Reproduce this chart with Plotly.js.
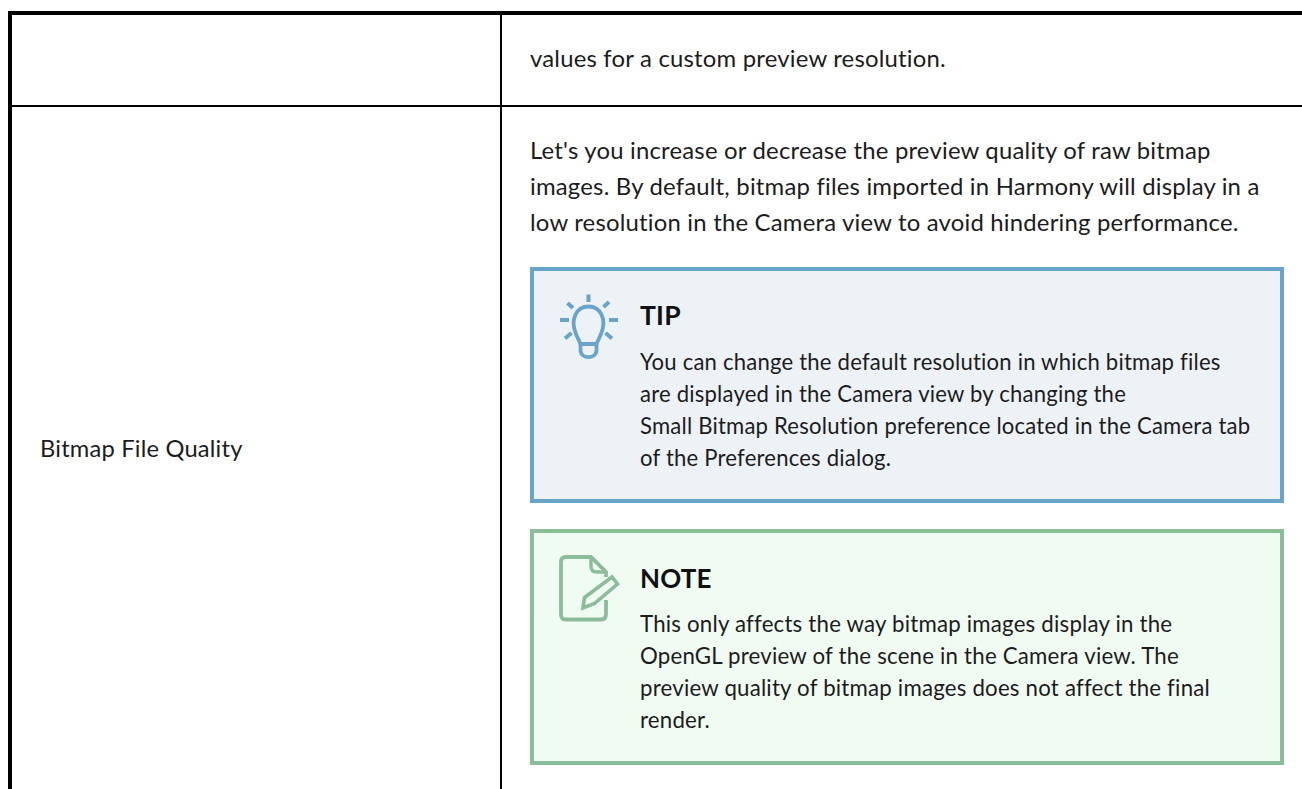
<!DOCTYPE html>
<html>
<head>
<meta charset="utf-8">
<script src="https://cdn.plot.ly/plotly-3.0.1.min.js"></script>
<style>html,body{margin:0;padding:0;background:#fff;overflow:hidden}#c{width:1302px;height:789px}
.annotation-text{letter-spacing:.2px;font-variant-ligatures:none}</style>
</head>
<body>
<div id="c"></div>
<script>
const rowLabel = "Bitmap File Quality";
const topRowLines = ["values for a custom preview resolution."];
const bodyLines = [
  "Let's you increase or decrease the preview quality of raw bitmap",
  "images. By default, bitmap files imported in Harmony will display in a",
  "low resolution in the Camera view to avoid hindering performance."
];
const tipTitle = "TIP";
const tipLines = [
  "You can change the default resolution in which bitmap files",
  "are displayed in the Camera view by changing the",
  "Small Bitmap Resolution preference located in the Camera tab",
  "of the Preferences dialog."
];
const noteTitle = "NOTE";
const noteLines = [
  "This only affects the way bitmap images display in the",
  "OpenGL preview of the scene in the Camera view. The",
  "preview quality of bitmap images does not affect the final",
  "render."
];

const FONT = "Lato, 'Noto Sans', sans-serif";
const INK = "#1c1c1c";
const BLUE = "#69a5cb", BLUEBG = "#edf2f7";
const GREEN = "#8abd9a", GREENBG = "#f0fbf2";

function rect(x0, y0, x1, y1, fill) {
  return {type:"rect", xref:"x", yref:"y", x0, y0, x1, y1, fillcolor:fill, line:{width:0}, layer:"below"};
}
function box(x0, y0, x1, y1, b, border, bg) {
  return [rect(x0, y0, x1, y1, border), rect(x0+b, y0+b, x1-b, y1-b, bg)];
}
function stroke(path, color, w) {
  return {type:"path", xref:"x", yref:"y", path, line:{color, width:w}, fillcolor:"rgba(0,0,0,0)", layer:"above"};
}

const shapes = [
  rect(8, 11, 1302, 15, "#000"),
  rect(8, 11, 12, 789, "#000"),
  rect(12, 105, 1302, 107, "#000"),
  rect(500, 15, 502, 789, "#000"),
  ...box(530, 267, 1284, 503, 4, BLUE, BLUEBG),
  ...box(530, 529, 1284, 765, 4, GREEN, GREENBG),
  // lightbulb icon
  stroke("M580.5,344 L576,334 C570,320 576,306.5 588.5,306.5 C601,306.5 607,320 601,334 L596.5,344 Z", BLUE, 3.8),
  stroke("M580.5,344 L580.5,350 C580.5,359.5 596.5,359.5 596.5,350 L596.5,344", BLUE, 3.8),
  stroke("M588.5,294.5 L588.5,302", BLUE, 4),
  stroke("M567.5,303 L573,308", BLUE, 4),
  stroke("M609,302 L603.5,307", BLUE, 4),
  stroke("M560,320 L569,320", BLUE, 4),
  stroke("M609,320 L618,320", BLUE, 4),
  stroke("M565,338.5 L571.5,333", BLUE, 4),
  stroke("M612,338.5 L605.5,333", BLUE, 4),
  // note icon
  stroke("M606,600 L606,614 C606,618 604,619.5 601,619.5 L566,619.5 C562.5,619.5 561,618 561,614 L561,562 C561,558.5 562.5,557 566,557 L591,557 L606,572 L606,577", GREEN, 3.8),
  stroke("M591,557 L591,566 C591,570 593,572 597,572 L606,572", GREEN, 3.4),
  stroke("M583,608 L584.5,597.5 L612,577 L617.5,584 L594.5,603.5 Z", GREEN, 3.6)
];

const ann = [];
function text(str, x, y, size, bold) {
  ann.push({text: bold ? "<b>"+str+"</b>" : str, x: x-2, y: y-2, xref:"x", yref:"y",
            xanchor:"left", yanchor:"middle", showarrow:false, align:"left",
            font:{family:FONT, size, color: bold ? "#111" : INK}});
}
text(rowLabel, 40, 450, 23.7);
topRowLines.forEach((s,i)=>text(s, 530, 59+i*36, 23.9));
bodyLines.forEach((s,i)=>text(s, 530, 151+i*36, 23.9));
text(tipTitle, 640, 317, 26.5, true);
tipLines.forEach((s,i)=>text(s, 640, 363+i*32, 22.1));
text(noteTitle, 640, 580, 26, true);
noteLines.forEach((s,i)=>text(s, 640, 625+i*32, 22.25));

const axis = {visible:false, fixedrange:true, showgrid:false, zeroline:false};
Plotly.newPlot("c", [{x:[],y:[],type:"scatter",mode:"markers",hoverinfo:"skip",showlegend:false}], {
  width:1302, height:789, margin:{l:0,r:0,t:0,b:0,pad:0},
  paper_bgcolor:"#fff", plot_bgcolor:"#fff", showlegend:false,
  xaxis:{...axis, range:[0,1302]},
  yaxis:{...axis, range:[789,0]},
  shapes, annotations:ann
}, {displayModeBar:false, staticPlot:true});
</script>
</body>
</html>
